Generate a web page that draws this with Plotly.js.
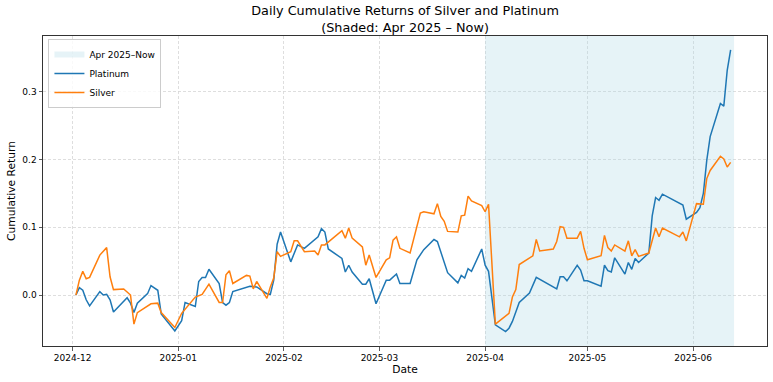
<!DOCTYPE html>
<html>
<head>
<meta charset="utf-8">
<script src="https://cdn.plot.ly/plotly-3.0.1.min.js"></script>
<style>html,body{margin:0;padding:0;background:#fff;}#chart{width:773px;height:382px;}</style>
</head>
<body>
<div id="chart"></div>
<script>
// ---- Data ----
const platinumDates = ['2024-12-02','2024-12-03','2024-12-04','2024-12-05','2024-12-06','2024-12-09','2024-12-10','2024-12-11','2024-12-12','2024-12-13','2024-12-17','2024-12-18','2024-12-19','2024-12-20','2024-12-23','2024-12-24','2024-12-26','2024-12-27','2024-12-31','2025-01-02','2025-01-03','2025-01-06','2025-01-07','2025-01-08','2025-01-09','2025-01-10','2025-01-13','2025-01-14','2025-01-15','2025-01-16','2025-01-17','2025-01-22','2025-01-24','2025-01-27','2025-01-28','2025-01-29','2025-01-30','2025-01-31','2025-02-03','2025-02-05','2025-02-07','2025-02-11','2025-02-12','2025-02-13','2025-02-14','2025-02-18','2025-02-19','2025-02-20','2025-02-21','2025-02-24','2025-02-25','2025-02-26','2025-02-28','2025-03-03','2025-03-04','2025-03-06','2025-03-07','2025-03-10','2025-03-12','2025-03-14','2025-03-17','2025-03-18','2025-03-21','2025-03-24','2025-03-25','2025-03-26','2025-03-27','2025-03-28','2025-03-31','2025-04-01','2025-04-02','2025-04-04','2025-04-07','2025-04-08','2025-04-09','2025-04-11','2025-04-14','2025-04-16','2025-04-22','2025-04-23','2025-04-24','2025-04-25','2025-04-28','2025-04-29','2025-04-30','2025-05-01','2025-05-05','2025-05-06','2025-05-07','2025-05-08','2025-05-09','2025-05-12','2025-05-13','2025-05-14','2025-05-15','2025-05-16','2025-05-19','2025-05-20','2025-05-21','2025-05-22','2025-05-23','2025-05-28','2025-05-29','2025-05-30','2025-06-02','2025-06-03','2025-06-04','2025-06-05','2025-06-06','2025-06-09','2025-06-10','2025-06-11','2025-06-12'];
const platinumValues = [0,0.011,0.007,-0.007,-0.016,0.005,0.0,0.001,-0.007,-0.025,-0.004,-0.012,-0.026,-0.012,0.002,0.014,0.007,-0.028,-0.053,-0.038,-0.011,-0.017,0.020,0.026,0.026,0.038,0.017,-0.011,-0.015,-0.011,0.005,0.013,0.012,0.002,0.001,0.022,0.075,0.093,0.049,0.074,0.069,0.086,0.098,0.093,0.068,0.054,0.034,0.044,0.034,0.016,0.016,0.024,-0.013,0.022,0.022,0.031,0.017,0.017,0.052,0.067,0.082,0.079,0.033,0.018,0.029,0.025,0.039,0.035,0.068,0.044,0.035,-0.044,-0.054,-0.049,-0.039,-0.011,0.003,0.026,0.009,0.027,0.027,0.021,0.044,0.037,0.021,0.021,0.013,0.044,0.036,0.034,0.055,0.031,0.048,0.038,0.054,0.048,0.062,0.117,0.144,0.140,0.149,0.135,0.133,0.112,0.122,0.129,0.150,0.199,0.234,0.283,0.279,0.332,0.362];

const silverDates = ['2024-12-02','2024-12-03','2024-12-04','2024-12-05','2024-12-06','2024-12-09','2024-12-11','2024-12-12','2024-12-13','2024-12-16','2024-12-18','2024-12-19','2024-12-20','2024-12-24','2024-12-26','2024-12-27','2024-12-31','2025-01-02','2025-01-06','2025-01-08','2025-01-10','2025-01-13','2025-01-14','2025-01-15','2025-01-16','2025-01-17','2025-01-21','2025-01-22','2025-01-23','2025-01-24','2025-01-27','2025-01-28','2025-01-29','2025-01-30','2025-01-31','2025-02-03','2025-02-04','2025-02-05','2025-02-07','2025-02-10','2025-02-11','2025-02-12','2025-02-13','2025-02-18','2025-02-19','2025-02-20','2025-02-21','2025-02-24','2025-02-25','2025-02-26','2025-02-28','2025-03-03','2025-03-04','2025-03-05','2025-03-06','2025-03-07','2025-03-10','2025-03-13','2025-03-14','2025-03-17','2025-03-18','2025-03-19','2025-03-20','2025-03-21','2025-03-24','2025-03-25','2025-03-26','2025-03-27','2025-03-28','2025-03-31','2025-04-01','2025-04-02','2025-04-04','2025-04-08','2025-04-09','2025-04-10','2025-04-11','2025-04-15','2025-04-16','2025-04-17','2025-04-21','2025-04-22','2025-04-23','2025-04-24','2025-04-25','2025-04-28','2025-04-29','2025-04-30','2025-05-01','2025-05-05','2025-05-06','2025-05-07','2025-05-08','2025-05-09','2025-05-12','2025-05-13','2025-05-14','2025-05-15','2025-05-16','2025-05-19','2025-05-21','2025-05-22','2025-05-23','2025-05-28','2025-05-29','2025-05-30','2025-06-02','2025-06-04','2025-06-05','2025-06-06','2025-06-09','2025-06-10','2025-06-11','2025-06-12'];
const silverValues = [0,0.022,0.035,0.024,0.026,0.059,0.070,0.027,0.008,0.009,0.0,-0.043,-0.026,-0.013,-0.012,-0.026,-0.048,-0.027,-0.003,0.001,0.016,-0.011,-0.011,0.030,0.036,0.017,0.029,0.028,0.009,0.020,-0.005,0.012,0.025,0.064,0.057,0.064,0.080,0.080,0.064,0.065,0.059,0.074,0.074,0.095,0.084,0.099,0.084,0.071,0.044,0.059,0.026,0.052,0.055,0.081,0.086,0.069,0.062,0.121,0.123,0.120,0.135,0.116,0.109,0.094,0.093,0.117,0.118,0.146,0.139,0.132,0.123,0.134,-0.043,-0.027,-0.003,0.008,0.045,0.058,0.082,0.065,0.068,0.079,0.101,0.100,0.084,0.084,0.094,0.069,0.052,0.058,0.088,0.070,0.065,0.074,0.065,0.080,0.058,0.067,0.057,0.062,0.099,0.086,0.099,0.086,0.093,0.080,0.135,0.134,0.172,0.184,0.205,0.201,0.189,0.196];

const shadeStart = '2025-04-01';
const shadeEnd = '2025-06-13';
const shadeLabel = 'Apr 2025–Now';

const xTickVals = ['2024-12-01','2025-01-01','2025-02-01','2025-03-01','2025-04-01','2025-05-01','2025-06-01'];
const xTickText = ['2024-12','2025-01','2025-02','2025-03','2025-04','2025-05','2025-06'];
const yTickVals = [0.0, 0.1, 0.2, 0.3];
const yTickText = ['0.0','0.1','0.2','0.3'];

const xRange = ['2024-11-22 08:00', '2025-06-22 16:00'];
const yRange = [-0.0753, 0.3826];

// ---- Traces ----
// The shaded span (drawn as a filled region spanning the whole y range; also gives the legend entry)
const shadeSpan = {
  x: [shadeStart, shadeStart, shadeEnd, shadeEnd],
  y: [yRange[0] - 1, yRange[1] + 1, yRange[1] + 1, yRange[0] - 1],
  type: 'scatter', mode: 'none', fill: 'toself',
  fillcolor: 'rgba(173,216,230,0.3)',
  name: shadeLabel, hoverinfo: 'skip'
};
const platinum = {
  x: platinumDates, y: platinumValues, type: 'scatter', mode: 'lines',
  name: 'Platinum', line: {color: '#1f77b4', width: 1.5}
};
const silver = {
  x: silverDates, y: silverValues, type: 'scatter', mode: 'lines',
  name: 'Silver', line: {color: '#ff7f0e', width: 1.5}
};

const axisCommon = {
  showgrid: true, gridcolor: '#d6d6d6', gridwidth: 0.8, griddash: '3px,2px',
  showline: true, linecolor: '#333', linewidth: 1, mirror: true,
  ticks: 'outside', ticklen: 3.5, tickwidth: 0.8, tickcolor: '#333',
  zeroline: false, tickfont: {size: 9, color: '#000'}
};

const layout = {
  width: 773, height: 382,
  margin: {l: 43, r: 6, t: 36, b: 36},
  paper_bgcolor: '#fff', plot_bgcolor: '#fff',
  font: {family: 'DejaVu Sans', color: '#000'},
  title: {
    text: 'Daily Cumulative Returns of Silver and Platinum<br>(Shaded: Apr 2025 – Now)',
    font: {size: 12.8, color: '#000'},
    x: 0.524, xanchor: 'center', xref: 'container',
    y: 0.961, yanchor: 'middle', yref: 'container'
  },
  xaxis: Object.assign({}, axisCommon, {
    type: 'date', range: xRange,
    tickmode: 'array', tickvals: xTickVals, ticktext: xTickText,
    title: {text: 'Date', font: {size: 10.7}, standoff: 3}
  }),
  yaxis: Object.assign({}, axisCommon, {
    range: yRange,
    tickmode: 'array', tickvals: yTickVals, ticktext: yTickText,
    title: {text: 'Cumulative Return', font: {size: 10.7}, standoff: 4}
  }),
  legend: {
    x: 0.0075, y: 0.99, xanchor: 'left', yanchor: 'top',
    bgcolor: 'rgba(255,255,255,0.8)', bordercolor: '#cccccc', borderwidth: 1,
    font: {size: 9}, itemwidth: 30, tracegroupgap: 0
  },
  showlegend: true
};

Plotly.newPlot('chart', [shadeSpan, platinum, silver], layout, {displayModeBar: false, staticPlot: true});
</script>
</body>
</html>
